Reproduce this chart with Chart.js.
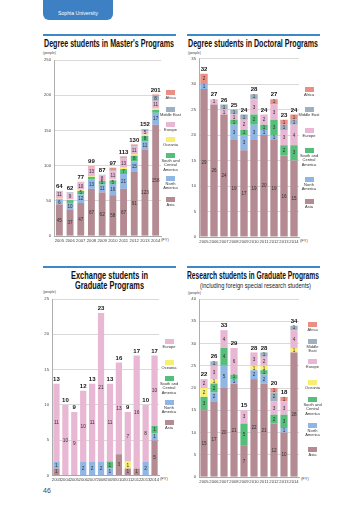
<!DOCTYPE html>
<html><head><meta charset="utf-8">
<script src="https://cdn.jsdelivr.net/npm/chart.js@4/dist/chart.umd.min.js"></script>
<style>
html,body{margin:0;padding:0}
body{width:360px;height:509px;position:relative;background:#fff;overflow:hidden;font-family:'Liberation Sans',Arial,sans-serif;color:#222}
.a{position:absolute;white-space:nowrap}
.hdr{left:43px;top:-6px;width:70px;height:26px;background:#3d80c3;border-radius:6px}
.hdrt{color:#fff;font-size:5px;line-height:5px}
.rule{height:2px;background:#3f88c8;width:133px}
.title{font-family:'Liberation Sans Narrow','Liberation Sans',sans-serif;font-weight:bold;font-size:10px;line-height:10px;color:#111}
.sub{font-family:'Liberation Sans Narrow','Liberation Sans',sans-serif;font-size:6.5px;line-height:7px;color:#222}
.ppl{font-size:3.5px;line-height:4px;color:#444}
.fy{font-size:4px;line-height:4px;color:#444}
.lbox{position:absolute;width:9px;height:4.5px}
.ltxt{position:absolute;width:30px;text-align:center;font-size:4px;line-height:4.3px;color:#333;white-space:normal}
canvas{position:absolute}
</style></head>
<body>
<div class="a hdr"></div>
<div class="a hdrt" data-w="40" style="left:58px;top:10.5px">Sophia University</div>

<div class="a rule" style="left:43px;top:34px"></div>
<div class="a title" data-w="130" style="left:44px;top:39px">Degree students in Master's Programs</div>
<div class="a ppl" style="left:43px;top:51px">(people)</div>
<div class="a fy" style="left:161px;top:238px">(FY)</div>

<div class="a rule" style="left:187px;top:34px"></div>
<div class="a title" data-w="130" style="left:188px;top:39px">Degree students in Doctoral Programs</div>
<div class="a ppl" style="left:188px;top:51px">(people)</div>
<div class="a fy" style="left:300px;top:239px">(FY)</div>

<div class="a rule" style="left:43px;top:266px"></div>
<div class="a title" data-w="77" style="left:71px;top:271px">Exchange students in</div>
<div class="a title" data-w="69" style="left:75px;top:280.5px">Graduate Programs</div>
<div class="a ppl" style="left:43px;top:290px">(people)</div>
<div class="a fy" style="left:160px;top:477px">(FY)</div>

<div class="a rule" style="left:187px;top:266px"></div>
<div class="a title" data-w="132" style="left:187px;top:271px">Research students in Graduate Programs</div>
<div class="a sub" data-w="111" style="left:200px;top:281.5px">(including foreign special research students)</div>
<div class="a ppl" style="left:188px;top:291px">(people)</div>
<div class="a fy" style="left:301px;top:477px">(FY)</div>

<div class="a" style="left:43px;top:487px;font-size:7px;color:#444">46</div>

<canvas id="cM"></canvas>
<canvas id="cD"></canvas>
<canvas id="cE"></canvas>
<canvas id="cR"></canvas>

<script>
// ---------- DATA ----------
const mastersYears = ['2005','2006','2007','2008','2009','2010','2011','2012','2013','2014'];
const mastersAsia          = [45,37,47,67,62,58,67,91,123,158];
const mastersNorthAmerica  = [6,10,12,13,11,16,21,15,11,17];
const mastersSouthCentral  = [1,4,5,4,5,5,7,8,8,4];
const mastersOceania       = [1,1,2,1,0,2,2,2,2,2];
const mastersEurope        = [11,9,10,13,8,11,13,11,5,11];
const mastersMiddleEast    = [0,1,0,0,1,1,1,2,2,8];
const mastersAfrica        = [0,0,1,1,0,4,2,1,1,1];
const mastersTicks = [0,50,100,150,200,250];

const doctoralYears = ['2005','2006','2007','2008','2009','2010','2011','2012','2013','2014'];
const doctoralAsia          = [29,26,24,19,17,19,20,19,16,15];
const doctoralNorthAmerica  = [1,0,0,3,3,3,1,1,0,0];
const doctoralSouthCentral  = [0,0,0,1,1,2,1,3,2,3];
const doctoralEurope        = [0,1,1,1,2,3,2,3,3,4];
const doctoralMiddleEast    = [0,0,1,1,1,1,0,0,1,1];
const doctoralAfrica        = [2,0,0,0,0,0,0,1,1,1];
const doctoralTicks = [0,5,10,15,20,25,30,35];

const exchangeYears = ['2003','2004','2005','2006','2007','2008','2009','2010','2011','2012','2013','2014'];
const exchangeAsia          = [1,0,0,0,0,0,0,3,1,1,0,5];
const exchangeNorthAmerica  = [1,0,0,2,2,2,1,0,0,0,2,1];
const exchangeSouthCentral  = [0,0,0,0,0,0,1,0,0,0,0,1];
const exchangeOceania       = [0,0,0,0,0,0,0,0,1,0,0,0];
const exchangeEurope        = [11,10,9,10,11,21,11,13,7,16,8,10];
const exchangeTicks = [0,5,10,15,20,25];

const researchYears = ['2005','2006','2007','2008','2009','2010','2011','2012','2013','2014'];
const researchAsia          = [15,17,20,21,7,22,21,12,10,28];
const researchNorthAmerica  = [0,2,5,1,0,2,2,0,1,0];
const researchSouthCentral  = [3,2,4,1,5,0,1,2,3,0];
const researchOceania       = [2,1,0,0,0,1,1,0,0,1];
const researchEurope        = [2,3,4,6,3,3,2,3,3,4];
const researchMiddleEast    = [0,1,0,0,0,0,1,2,0,1];
const researchAfrica        = [0,0,0,0,0,0,0,1,1,0];
const researchTicks = [0,5,10,15,20,25,30,35,40];

// ---------- STYLE ----------
const COL = {
  'Asia':'#b58b93','North America':'#8fb6e4','South and Central America':'#55bf7a',
  'Oceania':'#f6ef72','Europe':'#e8b7d3','Middle East':'#9fb0c0','Africa':'#ea8f86'
};
const NARROW = "'Liberation Sans Narrow','Liberation Sans',sans-serif";

// fit header/title texts to measured widths
document.querySelectorAll('[data-w]').forEach(el=>{
  const w = el.getBoundingClientRect().width;
  el.style.transformOrigin='0 50%';
  el.style.transform='scaleX('+(parseFloat(el.dataset.w)/w)+')';
});

const valuePlugin = {
  id:'vals',
  afterDatasetsDraw(chart, args, o){
    const ctx = chart.ctx;
    ctx.save();
    ctx.textAlign='center'; ctx.textBaseline='middle';
    const n = chart.data.labels.length;
    const tops = new Array(n).fill(Infinity), totals = new Array(n).fill(0), xs = new Array(n).fill(0);
    chart.data.datasets.forEach((ds,i)=>{
      const meta = chart.getDatasetMeta(i);
      meta.data.forEach((bar,j)=>{
        const v = ds.data[j];
        xs[j] = bar.x;
        if(!v) return;
        totals[j]+=v;
        tops[j]=Math.min(tops[j],bar.y);
        const h = Math.abs(bar.base-bar.y);
        if(h < o.minH) return;
        ctx.font = o.seg+'px '+NARROW;
        ctx.fillStyle='#333';
        ctx.fillText(String(v), bar.x, (bar.y+bar.base)/2+0.3);
      });
    });
    ctx.font = 'bold '+o.tot+'px '+NARROW;
    ctx.fillStyle='#111';
    for(let j=0;j<n;j++){
      if(totals[j]>0) ctx.fillText(String(totals[j]), xs[j], tops[j]-o.tot*0.75);
    }
    ctx.restore();
  }
};

function makeChart(id, box, area, labels, series, ticks, barPct, lbl){
  const cv = document.getElementById(id);
  const w = box.r-box.l, h = box.b-box.t;
  cv.style.left = box.l+'px'; cv.style.top = box.t+'px';
  cv.style.width = w+'px'; cv.style.height = h+'px';
  cv.width = w; cv.height = h;
  const yMax = ticks[ticks.length-1], step = ticks[1]-ticks[0];
  return new Chart(cv, {
    type:'bar',
    data:{ labels, datasets: series.map(s=>({
      label:s[0], data:s[1], backgroundColor:COL[s[0]], borderWidth:0,
      barPercentage:barPct, categoryPercentage:1, stack:'s'
    }))},
    options:{
      responsive:false, animation:false, devicePixelRatio:1,
      layout:{padding:{left:0,right:box.r-area.r,top:area.t-box.t,bottom:0}},
      plugins:{legend:{display:false}, tooltip:{enabled:false}, vals:lbl},
      scales:{
        x:{ stacked:true,
            grid:{display:false, drawTicks:false},
            border:{display:true,color:'#9a9a9a',width:0.8},
            ticks:{font:{size:4.2,family:"'Liberation Sans',sans-serif"},color:'#444',padding:2,maxRotation:0,autoSkip:false},
            afterFit(s){ s.height = box.b-area.b; } },
        y:{ stacked:true, min:0, max:yMax,
            grid:{color:'#cfcfcf', lineWidth:0.8, drawTicks:false},
            border:{display:true,color:'#9a9a9a',width:0.8},
            ticks:{stepSize:step, font:{size:4.2,family:"'Liberation Sans',sans-serif"},color:'#444',padding:3},
            afterFit(s){ s.width = area.l-box.l; } }
      }
    },
    plugins:[valuePlugin]
  });
}

makeChart('cM', {l:36,t:54,r:168,b:247}, {l:54,t:60,r:161,b:236}, mastersYears, [
  ['Asia',mastersAsia],['North America',mastersNorthAmerica],['South and Central America',mastersSouthCentral],
  ['Oceania',mastersOceania],['Europe',mastersEurope],['Middle East',mastersMiddleEast],['Africa',mastersAfrica]
], mastersTicks, 0.64, {minH:3.4, seg:4.6, tot:6});

makeChart('cD', {l:182,t:53,r:306,b:248}, {l:199,t:58.5,r:299,b:237}, doctoralYears, [
  ['Asia',doctoralAsia],['North America',doctoralNorthAmerica],['South and Central America',doctoralSouthCentral],
  ['Europe',doctoralEurope],['Middle East',doctoralMiddleEast],['Africa',doctoralAfrica]
], doctoralTicks, 0.74, {minH:3.4, seg:4.6, tot:6});

makeChart('cE', {l:36,t:293,r:166,b:486}, {l:52,t:299,r:159,b:475.5}, exchangeYears, [
  ['Asia',exchangeAsia],['North America',exchangeNorthAmerica],['South and Central America',exchangeSouthCentral],
  ['Oceania',exchangeOceania],['Europe',exchangeEurope]
], exchangeTicks, 0.7, {minH:3.4, seg:4.8, tot:6});

makeChart('cR', {l:182,t:293,r:306,b:487}, {l:199,t:299,r:299,b:477}, researchYears, [
  ['Asia',researchAsia],['North America',researchNorthAmerica],['South and Central America',researchSouthCentral],
  ['Oceania',researchOceania],['Europe',researchEurope],['Middle East',researchMiddleEast],['Africa',researchAfrica]
], researchTicks, 0.72, {minH:3.4, seg:4.6, tot:6});

// ---------- LEGENDS ----------
function legend(cx, entries){
  entries.forEach(([name, text, top])=>{
    const b = document.createElement('div');
    b.className='lbox'; b.style.left=(cx-4.5)+'px'; b.style.top=top+'px'; b.style.background=COL[name];
    document.body.appendChild(b);
    const t = document.createElement('div');
    t.className='ltxt'; t.style.left=(cx-15)+'px'; t.style.top=(top+6)+'px';
    t.innerHTML = text.split('\n').join('<br>');
    document.body.appendChild(t);
  });
}
legend(170.5, [['Africa','Africa',90],['Middle East','Middle East',107],['Europe','Europe',122],['Oceania','Oceania',137],
  ['South and Central America','South and\nCentral\nAmerica',153],['North America','North\nAmerica',176],['Asia','Asia',197]]);
legend(309, [['Africa','Africa',87],['Middle East','Middle East',107],['Europe','Europe',128],
  ['South and Central America','South and\nCentral\nAmerica',148],['North America','North\nAmerica',177],['Asia','Asia',199]]);
legend(169, [['Europe','Europe',339],['Oceania','Oceania',360],['South and Central America','South and\nCentral\nAmerica',376],
  ['North America','North\nAmerica',400],['Asia','Asia',420]]);
legend(312.5, [['Africa','Africa',322],['Middle East','Middle\nEast',339],['Europe','Europe',359],['Oceania','Oceania',380],
  ['South and Central America','South and\nCentral\nAmerica',397],['North America','North\nAmerica',423],['Asia','Asia',447]]);
</script>
</body></html>
